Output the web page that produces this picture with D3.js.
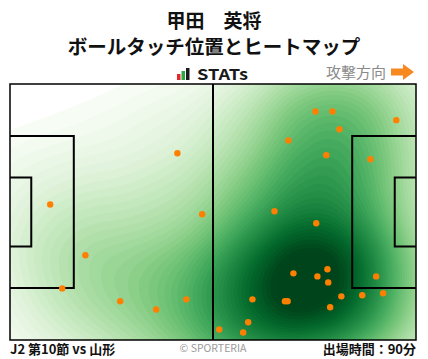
<!DOCTYPE html>
<html><head><meta charset="utf-8">
<script src="https://cdn.jsdelivr.net/npm/d3@7/dist/d3.min.js"></script>
<style>
html,body{margin:0;padding:0;background:#fff;}
svg{display:block;}
text{font-family:"Noto Sans CJK JP","Noto Sans",sans-serif;}
</style></head>
<body><svg id="c" width="428" height="359"></svg>
<script>
// ---- data (pitch metres, 105 x 68, attacking left -> right) ----
const titleLines = ["甲田　英将", "ボールタッチ位置とヒートマップ"];
const footerLeft = "J2 第10節 vs 山形";
const footerRight = "出場時間：90分";
const credit = "© SPORTERIA";
const directionLabel = "攻撃方向";
const touchX = [43.3,10.4,49.7,19.5,13.5,28.5,37.8,45.6,
  79.0,83.4,99.9,85.2,72.0,81.8,93.2,68.4,79.2,73.3,82.1,79.5,82.3,94.7,
  62.7,71.1,71.8,85.7,91.1,96.5,82.8,61.6,54.1,60.3];
const touchY = [18.4,32.0,34.6,45.5,54.3,57.7,59.9,57.2,
  7.3,7.3,9.6,12.0,15.0,18.9,20.0,33.8,37.0,50.3,49.2,51.1,52.7,51.1,
  57.2,57.7,57.7,56.4,56.1,55.6,59.3,63.3,65.2,66.0];
const pitchLen = 105, pitchWid = 68;

const svg = d3.select("#c");
const W = 428, H = 359;
const x = d3.scaleLinear().domain([0, pitchLen]).range([10, 416]);
const y = d3.scaleLinear().domain([0, pitchWid]).range([84, 340]);

// title
svg.append("text").attr("x", 214).attr("y", 28).attr("text-anchor", "middle")
  .attr("font-size", 19).attr("font-weight", 700).attr("fill", "#111").text(titleLines[0]);
svg.append("text").attr("x", 214).attr("y", 54).attr("text-anchor", "middle")
  .attr("font-size", 19.5).attr("font-weight", 700).attr("fill", "#111").text(titleLines[1]);

// STATs logo
const logo = svg.append("g");
logo.append("rect").attr("x", 177).attr("y", 74).attr("width", 3.5).attr("height", 6).attr("fill", "#e8262a");
logo.append("rect").attr("x", 181.5).attr("y", 71).attr("width", 3.5).attr("height", 9).attr("fill", "#2aa845");
logo.append("rect").attr("x", 186).attr("y", 68).attr("width", 3.5).attr("height", 12).attr("fill", "#1a1a1a");
logo.append("text").attr("x", 197).attr("y", 79.5).attr("font-size", 15).attr("font-weight", 700)
  .attr("font-family", "'DejaVu Sans',sans-serif").attr("fill", "#1a1a1a")
  .attr("textLength", 51).attr("lengthAdjust", "spacingAndGlyphs").text("STATs");

// direction
svg.append("text").attr("x", 326).attr("y", 77.5).attr("font-size", 15).attr("fill", "#8a8a8a")
  .text(directionLabel);
svg.append("path").attr("d", "M391,68.5 L403,68.5 L403,64 L414,72 L403,80 L403,75.5 L391,75.5 Z")
  .attr("fill", "#f7871f");

// heatmap
const pts = touchX.map((d, i) => ({x: d, y: touchY[i]}));
const defs = svg.append("defs");
defs.append("clipPath").attr("id", "pc").append("rect")
  .attr("x", x(0)).attr("y", y(0)).attr("width", x(pitchLen) - x(0)).attr("height", y(pitchWid) - y(0));
const dens = d3.contourDensity().x(d => x(d.x)).y(d => y(d.y))
  .size([W, H]).cellSize(2).bandwidth(55);
const cf = dens.contours(pts);
const mx = cf.max;
const nLev = 50;
const lo = 0.035;
const thresholds = d3.range(nLev).map(i => mx * (lo + (1 - lo) * i / nLev));
const col = d3.scaleSequentialPow(d3.interpolateGreens).exponent(0.85).domain([mx * lo, mx * 0.93]);
const hg = svg.append("g").attr("clip-path", "url(#pc)");
thresholds.forEach(t => {
  hg.append("path").attr("d", d3.geoPath()(cf(t))).attr("fill", col(t)).attr("stroke", "none");
});

// pitch lines
const lines = svg.append("g").attr("fill", "none").attr("stroke", "#000");
lines.append("rect").attr("x", x(0)).attr("y", y(0)).attr("width", x(pitchLen) - x(0))
  .attr("height", y(pitchWid) - y(0)).attr("stroke-width", 1.5);
lines.append("line").attr("x1", x(pitchLen / 2)).attr("x2", x(pitchLen / 2))
  .attr("y1", y(0)).attr("y2", y(pitchWid)).attr("stroke-width", 2);
const pbD = 16.5, pbW = 40.32, gaD = 5.5, gaW = 18.32;
[[0, 1], [pitchLen, -1]].forEach(([x0, s]) => {
  lines.append("path").attr("stroke-width", 2)
    .attr("d", `M${x(x0)},${y((pitchWid - pbW) / 2)} L${x(x0 + s * pbD)},${y((pitchWid - pbW) / 2)} L${x(x0 + s * pbD)},${y((pitchWid + pbW) / 2)} L${x(x0)},${y((pitchWid + pbW) / 2)}`);
  lines.append("path").attr("stroke-width", 2)
    .attr("d", `M${x(x0)},${y((pitchWid - gaW) / 2)} L${x(x0 + s * gaD)},${y((pitchWid - gaW) / 2)} L${x(x0 + s * gaD)},${y((pitchWid + gaW) / 2)} L${x(x0)},${y((pitchWid + gaW) / 2)}`);
});

// touches
svg.append("g").selectAll("circle").data(pts).join("circle")
  .attr("cx", d => x(d.x)).attr("cy", d => y(d.y)).attr("r", 3.2).attr("fill", "#ff8000");

// footer
svg.append("text").attr("x", 10).attr("y", 353.5).attr("font-size", 13).attr("font-weight", 700)
  .attr("fill", "#111").text(footerLeft);
svg.append("text").attr("x", 213).attr("y", 352).attr("text-anchor", "middle").attr("font-size", 10.5)
  .attr("font-family", "Roboto,'Noto Sans',sans-serif").attr("fill", "#9a9a9a").text(credit);
svg.append("text").attr("x", 416).attr("y", 353.5).attr("text-anchor", "end").attr("font-size", 13)
  .attr("font-weight", 700).attr("fill", "#111").text(footerRight);
</script></body></html>
